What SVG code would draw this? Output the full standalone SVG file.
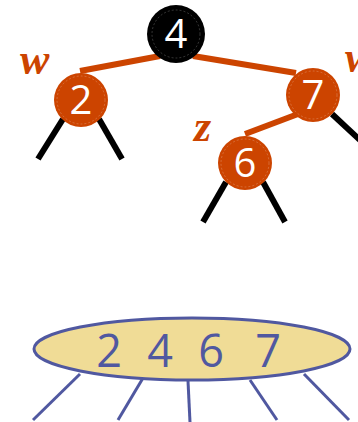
<svg xmlns="http://www.w3.org/2000/svg" width="358" height="422" viewBox="0 0 358 422">
<style>
.or{stroke:#CC4400;stroke-width:6;fill:none}
.bk{stroke:#000;stroke-width:6;fill:none}
.bl{stroke:#5058A0;stroke-width:3;fill:none}
.nd{stroke:none}
.in{fill:none;stroke:#ffffff;stroke-opacity:0.3;stroke-width:0.7;stroke-dasharray:2 2}
.nt{font-family:"Open Sans","Liberation Sans",sans-serif;font-size:40px;fill:#fff;text-anchor:middle}
.lb{font-family:"Liberation Serif",serif;font-style:italic;font-weight:bold;font-size:44px;fill:#CC4400}
.kt{font-family:"Open Sans","Liberation Sans",sans-serif;font-size:45px;fill:#5058A0;text-anchor:middle}
</style>
<g id="connectors">
<line class="or" x1="160" y1="56" x2="80" y2="71"/>
<line class="or" x1="193" y1="56" x2="296" y2="73"/>
<line class="or" x1="298" y1="114" x2="245" y2="134"/>
<line class="bk" x1="63" y1="119" x2="38" y2="159"/>
<line class="bk" x1="99" y1="119" x2="122" y2="159"/>
<line class="bk" x1="226" y1="182" x2="203" y2="222"/>
<line class="bk" x1="263" y1="182" x2="285" y2="222"/>
<line class="bk" x1="332" y1="114" x2="362" y2="142"/>
<line class="bl" x1="80" y1="374" x2="33" y2="420"/>
<line class="bl" x1="143" y1="378" x2="118" y2="420"/>
<line class="bl" x1="188" y1="381" x2="190" y2="422"/>
<line class="bl" x1="250" y1="380" x2="277" y2="420"/>
<line class="bl" x1="304" y1="374" x2="349" y2="420"/>
</g>
<g id="n4">
<circle class="nd" cx="176" cy="34" r="29" fill="#000"/>
<circle class="in" cx="176" cy="34" r="24"/>
<text class="nt" x="176" y="48">4</text>
</g>
<g id="n2">
<circle class="nd" cx="81" cy="100" r="27" fill="#CC4400"/>
<circle class="in" cx="81" cy="100" r="24"/>
<text class="nt" x="81" y="114">2</text>
</g>
<g id="n7">
<circle class="nd" cx="313" cy="95" r="27" fill="#CC4400"/>
<circle class="in" cx="313" cy="95" r="24"/>
<text class="nt" x="313" y="109">7</text>
</g>
<g id="n6">
<circle class="nd" cx="245" cy="163" r="27" fill="#CC4400"/>
<circle class="in" cx="245" cy="163" r="24"/>
<text class="nt" x="245" y="177">6</text>
</g>
<g id="labels">
<text class="lb" x="20" y="74">w</text>
<text class="lb" x="345" y="72">w</text>
<text class="lb" x="194" y="141">z</text>
</g>
<g id="node-2467">
<ellipse cx="192" cy="349" rx="158" ry="31" fill="#F0DC96" stroke="#5058A0" stroke-width="3"/>
<text class="kt" y="367"><tspan x="115">2</tspan> <tspan x="166">4</tspan> <tspan x="217">6</tspan> <tspan x="268">7</tspan></text>
</g>
</svg>
